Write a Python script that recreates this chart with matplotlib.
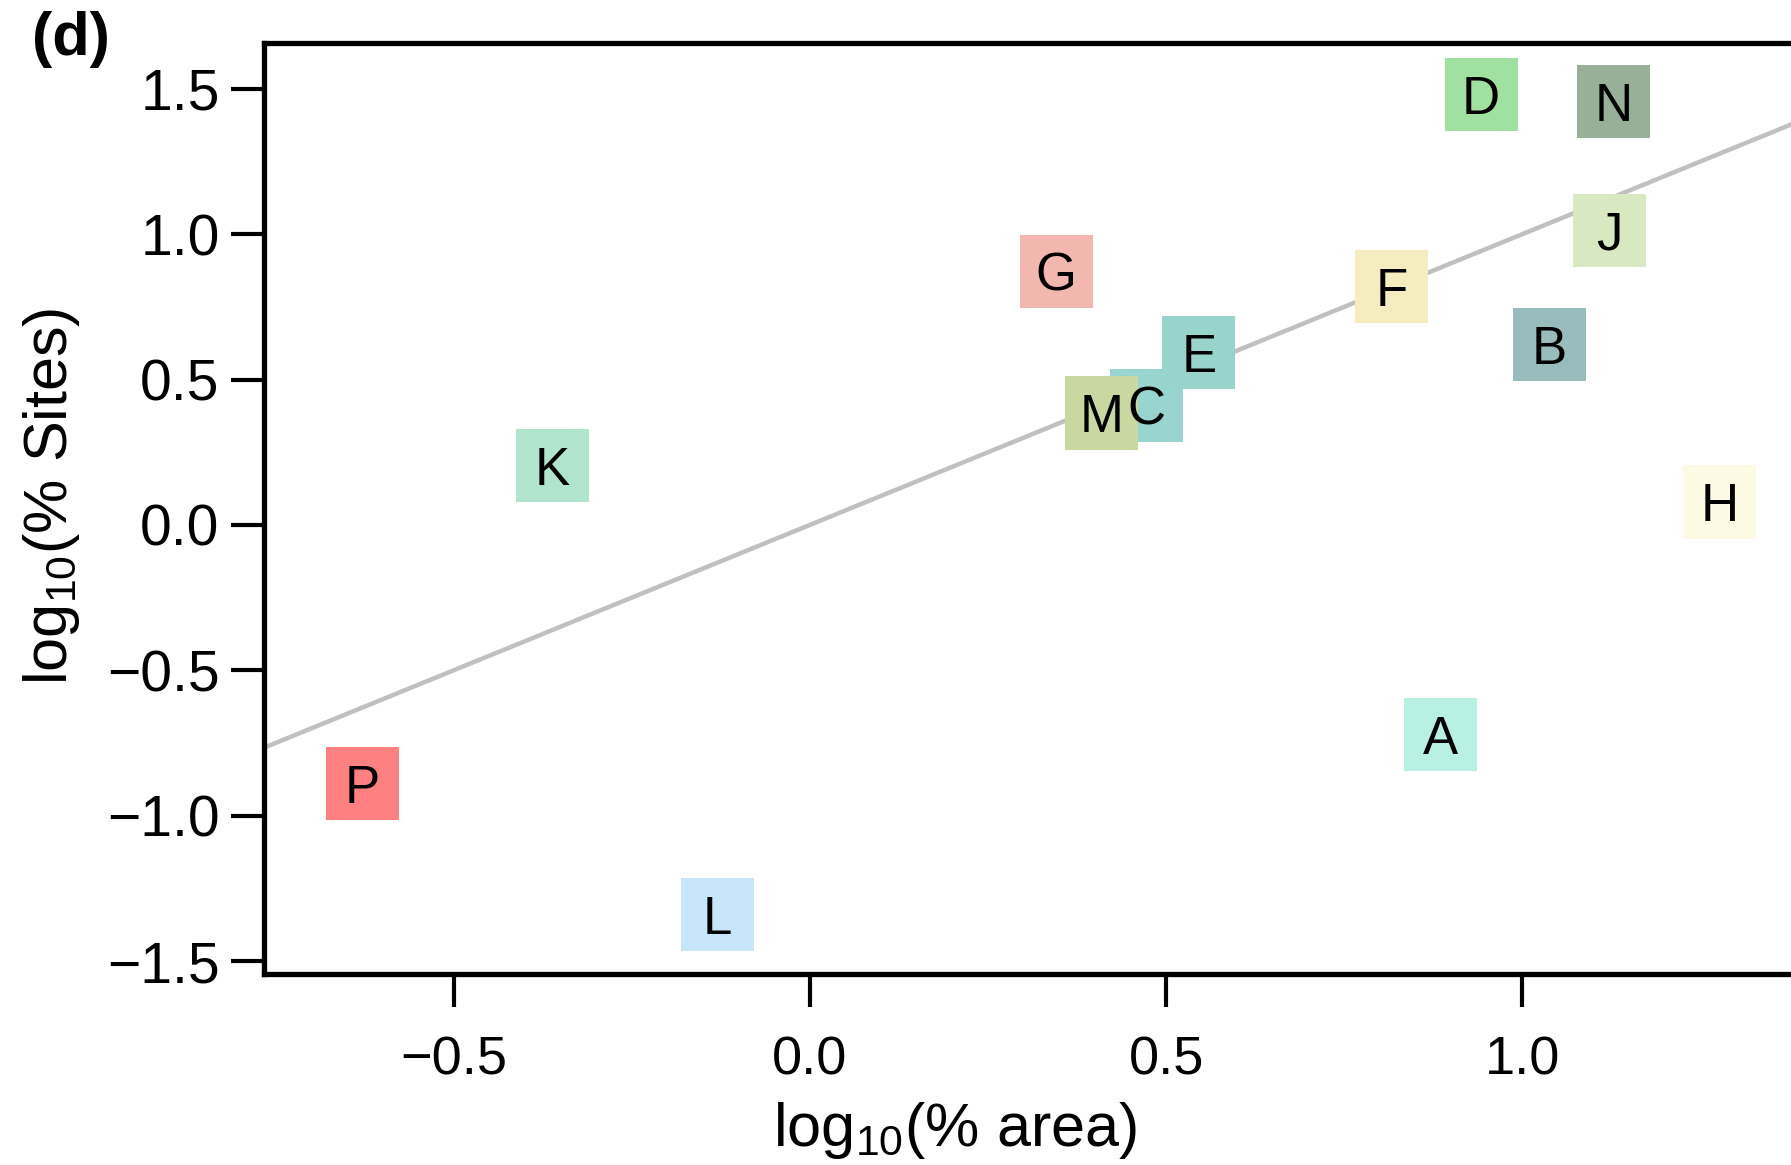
import matplotlib
matplotlib.use('Agg')
import matplotlib.pyplot as plt

plt.rcParams['font.family'] = ['Liberation Sans', 'DejaVu Sans']
plt.rcParams['mathtext.default'] = 'regular'

# regions, log10(% area) vs log10(% sites)
labels = ['C', 'E', 'M', 'D', 'N', 'J', 'G', 'F', 'B', 'K', 'H', 'A', 'P', 'L']
log_area = [0.473, 0.546, 0.410, 0.942, 1.128, 1.122, 0.346, 0.816, 1.038, -0.361, 1.277, 0.885, -0.628, -0.130]
log_sites = [0.412, 0.593, 0.385, 1.481, 1.457, 1.013, 0.872, 0.821, 0.621, 0.204, 0.079, -0.719, -0.888, -1.339]
colors = ['#98d4d0', '#98d4cc', '#c8d8a0', '#a0e0a0', '#98b098', '#d8e8c0', '#f2b8b0',
          '#f5ecc0', '#98bcbc', '#b0e4cc', '#fdfae4', '#b8f0e4', '#ff8080', '#c8e6fa']

xticks = [-0.5, 0.0, 0.5, 1.0]
yticks = [-1.5, -1.0, -0.5, 0.0, 0.5, 1.0, 1.5]

fig = plt.figure(figsize=(17.91, 11.65), dpi=100)
ax = fig.add_axes([0.1474, 0.164, 0.8526, 0.799])

xlim = (-0.766, 1.377)
ax.plot([xlim[0], xlim[1]], [xlim[0], xlim[1]], color='#c0c0c0', lw=3.2, zorder=1)

for lab, x, y, c in zip(labels, log_area, log_sites, colors):
    ax.scatter(x, y, s=2766, marker='s', color=c, edgecolors='none', zorder=2)
    ax.text(x, y, lab, ha='center', va='center_baseline', fontsize=38, zorder=3)

ax.set_xlim(*xlim)
ax.set_ylim(-1.544, 1.657)
ax.set_xticks(xticks)
ax.set_yticks(yticks)
ax.set_xticklabels([f'{t:.1f}'.replace('-', '\u2212') for t in xticks])
ax.set_yticklabels([f'{t:.1f}'.replace('-', '\u2212') for t in yticks])
ax.tick_params(direction='out', length=24, width=3, labelsize=39, pad=8)
ax.tick_params(axis='y', labelsize=41)
ax.tick_params(axis='x', pad=20)

for side in ['left', 'bottom', 'top']:
    ax.spines[side].set_linewidth(3.8)
ax.spines['right'].set_visible(False)

ax.set_xlabel('log$_{10}$(% area)', fontsize=44, va='center')
ax.set_ylabel('log$_{10}$(% Sites)', fontsize=44, va='center')
ax.xaxis.set_label_coords(0.4525, -0.168)
ax.yaxis.set_label_coords(-0.139, 0.513)

fig.text(0.018, 0.966, '(d)', fontsize=44, fontweight='bold', va='center')

fig.savefig('out.png', dpi=100)
